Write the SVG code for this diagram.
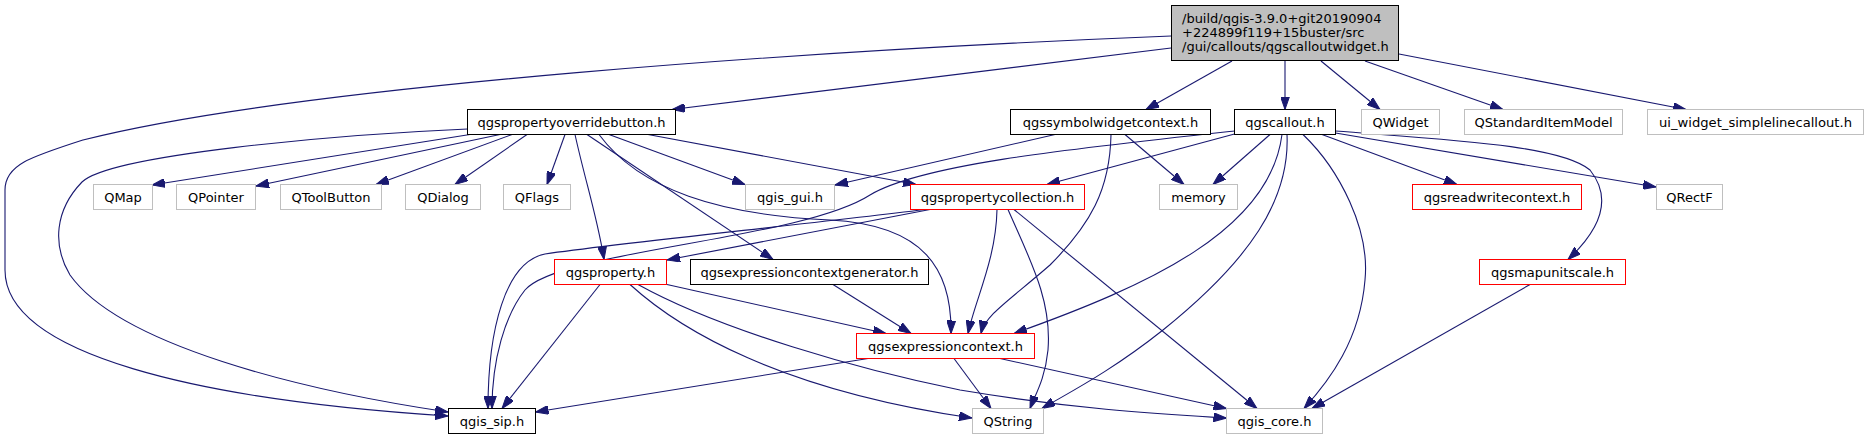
<svg xmlns="http://www.w3.org/2000/svg" width="1868" height="440" viewBox="0 0 1868 440">
<style>
text{font-family:"DejaVu Sans","Liberation Sans",sans-serif;font-size:13px;fill:#000;text-anchor:middle}
.node rect{fill:#fff;stroke-width:1}
.blk rect{stroke:#000}
.red rect{stroke:#ff0000}
.gry rect{stroke:#bfbfbf}
.root rect{fill:#bfbfbf;stroke:#000}
.root text{text-anchor:start}
#edges path{fill:none;stroke:#191970;stroke-width:1.1;marker-end:url(#ah)}
</style>
<defs>
<marker id="ah" markerWidth="13" markerHeight="9" refX="13" refY="4.5" orient="auto" markerUnits="userSpaceOnUse">
<path d="M0,0 L13,4.5 L0,9 z" fill="#191970" stroke="#191970" stroke-width="1"/>
</marker>
</defs>
<rect width="1868" height="440" fill="#fff"/>
<g id="edges">
<path d="M1171,36 C820,50 300,85 83,140 C30,157 5,165 5,190 L5,270 C5,355 200,400 448,416"/>
<path d="M1171,48 L672,109.5"/>
<path d="M1232,61 L1146,109.5"/>
<path d="M1285,61 L1285,109.5"/>
<path d="M1321,61 L1380,109.5"/>
<path d="M1365,61 L1503,109.5"/>
<path d="M1399,54 L1686,109.5"/>
<path d="M467.5,129 C330,135 110,155 82,182 C55,210 52,245 70,275 C120,345 300,390 448,412"/>
<path d="M470,134.5 L152,185"/>
<path d="M500,134.5 L256,186"/>
<path d="M512,134.5 L376,184.5"/>
<path d="M527,134.5 L455,184.5"/>
<path d="M565,134.5 L547,184.5"/>
<path d="M575,134.5 C585,180 598,220 604,259.5"/>
<path d="M587,134.5 L773,259.5"/>
<path d="M599,134.5 C640,190 720,215 830,220 C925,225 952,270 951,333.5"/>
<path d="M609,134.5 L745,184.5"/>
<path d="M648,134.5 L916,184.5"/>
<path d="M1055,134.5 L835,185"/>
<path d="M1125,134.5 L1184,184.5"/>
<path d="M1111,134.5 C1110,190 1090,225 1050,265 C1010,300 985,315 981,333.5"/>
<path d="M1234.5,134 L1047,184.5"/>
<path d="M1234.5,131 C1060,150 920,165 870,195 C800,240 560,250 525,290 C505,315 492,360 492,408.5"/>
<path d="M1270,134.5 L1213,184.5"/>
<path d="M1282,134.5 C1270,230 1150,285 1014,333.5"/>
<path d="M1287,134.5 C1290,200 1250,260 1163,330 C1110,372 1070,392 1042,408.5"/>
<path d="M1303,134.5 C1340,170 1370,230 1365,280 C1360,340 1330,380 1304,408.5"/>
<path d="M1322,134.5 L1457,184.5"/>
<path d="M1335.5,133 L1656,187"/>
<path d="M1335.5,131 C1450,140 1560,145 1590,170 C1610,195 1605,225 1568,259.5"/>
<path d="M925,209.5 C800,225 620,243 545,254 C505,262 488,330 488,408.5"/>
<path d="M930,209.5 L667,260"/>
<path d="M997,209.5 C996,260 975,300 968,333.5"/>
<path d="M1008,209.5 C1030,260 1052,300 1048,350 C1045,380 1035,395 1030,408.5"/>
<path d="M1014,209.5 L1257,408.5"/>
<path d="M600,284.5 L502,408.5"/>
<path d="M667,284.5 L886,333.5"/>
<path d="M630,284.5 C680,330 780,390 972,418"/>
<path d="M638,284.5 C720,330 860,370 960,390 C1080,410 1160,414 1226.5,418"/>
<path d="M833,284.5 L911,333.5"/>
<path d="M868,358.5 L535.5,412"/>
<path d="M954,358.5 L991,408.5"/>
<path d="M1000,358.5 L1226.5,408.5"/>
<path d="M1530,284.5 L1312,408.5"/>
</g>
<g id="root" class="node root"><rect x="1171.5" y="5.5" width="227" height="55"/><text x="1182" y="23">/build/qgis-3.9.0+git20190904</text><text x="1182" y="37">+224899f119+15buster/src</text><text x="1182" y="51">/gui/callouts/qgscalloutwidget.h</text></g>
<g id="n_overridebutton" class="node blk"><rect x="467.5" y="109.5" width="208" height="25"/><text x="571.5" y="127">qgspropertyoverridebutton.h</text></g>
<g id="n_symbolwidgetcontext" class="node blk"><rect x="1010.5" y="109.5" width="200" height="25"/><text x="1110.5" y="127">qgssymbolwidgetcontext.h</text></g>
<g id="n_qgscallout" class="node blk"><rect x="1234.5" y="109.5" width="101" height="25"/><text x="1285" y="127">qgscallout.h</text></g>
<g id="n_QWidget" class="node gry"><rect x="1361.5" y="109.5" width="78" height="25"/><text x="1400.5" y="127">QWidget</text></g>
<g id="n_QStandardItemModel" class="node gry"><rect x="1464.5" y="109.5" width="158" height="25"/><text x="1543.5" y="127">QStandardItemModel</text></g>
<g id="n_ui_widget" class="node gry"><rect x="1647.5" y="109.5" width="216" height="25"/><text x="1755.5" y="127" textLength="193" lengthAdjust="spacingAndGlyphs">ui_widget_simplelinecallout.h</text></g>
<g id="n_QMap" class="node gry"><rect x="93.5" y="184.5" width="59" height="25"/><text x="123" y="202">QMap</text></g>
<g id="n_QPointer" class="node gry"><rect x="176.5" y="184.5" width="79" height="25"/><text x="216" y="202">QPointer</text></g>
<g id="n_QToolButton" class="node gry"><rect x="280.5" y="184.5" width="101" height="25"/><text x="331" y="202">QToolButton</text></g>
<g id="n_QDialog" class="node gry"><rect x="405.5" y="184.5" width="75" height="25"/><text x="443" y="202">QDialog</text></g>
<g id="n_QFlags" class="node gry"><rect x="503.5" y="184.5" width="67" height="25"/><text x="537" y="202">QFlags</text></g>
<g id="n_qgis_gui" class="node gry"><rect x="745.5" y="184.5" width="89" height="25"/><text x="790" y="202">qgis_gui.h</text></g>
<g id="n_propertycollection" class="node red"><rect x="910.5" y="184.5" width="174" height="25"/><text x="997.5" y="202">qgspropertycollection.h</text></g>
<g id="n_memory" class="node gry"><rect x="1159.5" y="184.5" width="78" height="25"/><text x="1198.5" y="202">memory</text></g>
<g id="n_readwritecontext" class="node red"><rect x="1412.5" y="184.5" width="169" height="25"/><text x="1497" y="202">qgsreadwritecontext.h</text></g>
<g id="n_QRectF" class="node gry"><rect x="1656.5" y="184.5" width="66" height="25"/><text x="1689.5" y="202">QRectF</text></g>
<g id="n_qgsproperty" class="node red"><rect x="554.5" y="259.5" width="112" height="25"/><text x="610.5" y="277">qgsproperty.h</text></g>
<g id="n_exprgen" class="node blk"><rect x="690.5" y="259.5" width="238" height="25"/><text x="809.5" y="277">qgsexpressioncontextgenerator.h</text></g>
<g id="n_mapunitscale" class="node red"><rect x="1479.5" y="259.5" width="146" height="25"/><text x="1552.5" y="277">qgsmapunitscale.h</text></g>
<g id="n_exprcontext" class="node red"><rect x="856.5" y="333.5" width="178" height="25"/><text x="945.5" y="351">qgsexpressioncontext.h</text></g>
<g id="n_qgis_sip" class="node blk"><rect x="448.5" y="408.5" width="87" height="25"/><text x="492" y="426">qgis_sip.h</text></g>
<g id="n_QString" class="node gry"><rect x="972.5" y="408.5" width="71" height="25"/><text x="1008" y="426">QString</text></g>
<g id="n_qgis_core" class="node gry"><rect x="1226.5" y="408.5" width="96" height="25"/><text x="1274.5" y="426">qgis_core.h</text></g>
</svg>
